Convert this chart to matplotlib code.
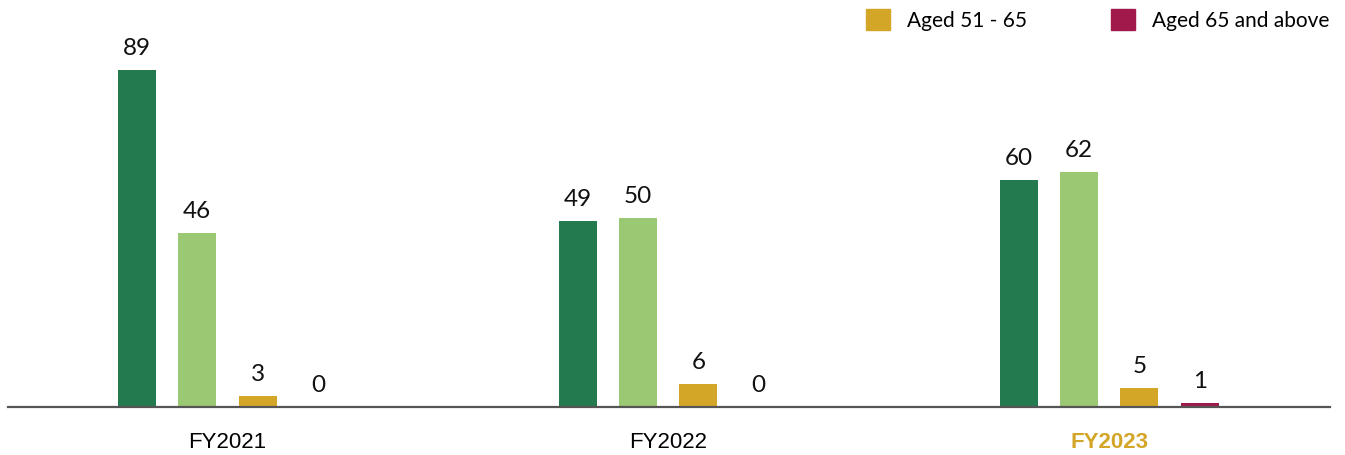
import matplotlib
matplotlib.use("Agg")
import matplotlib.pyplot as plt
import numpy as np
from matplotlib.patches import Patch

years = ["FY2021", "FY2022", "FY2023"]
series_names = ["Aged below 30", "Aged 30 - 50", "Aged 51 - 65", "Aged 65 and above"]
below_30 = [89, 49, 60]
aged_30_50 = [46, 50, 62]
aged_51_65 = [3, 6, 5]
aged_65_up = [0, 0, 1]
values = [below_30, aged_30_50, aged_51_65, aged_65_up]
colors = ["#237A4F", "#9BC873", "#D4A628", "#A0194A"]

fig = plt.figure(figsize=(13.45, 4.55), dpi=100)
ax = fig.add_axes([8/1345, 48/455, 1322/1345, 407/455])

x = np.arange(len(years))
step = 0.1368
width = 0.0862
offsets = [-1.5*step, -0.5*step, 0.5*step, 1.5*step]
for vals, off, col, name in zip(values, offsets, colors, series_names):
    bars = ax.bar(x + off, vals, width=width, color=col, label=name)
    for b, v in zip(bars, vals):
        ax.annotate(str(v), (b.get_x() + b.get_width()/2, v),
                    xytext=(0, 8), textcoords="offset points",
                    ha="center", va="bottom", fontsize=17.5,
                    family="Lato", color="#111111")

ax.set_xlim(-0.4977, 2.5007)
ax.set_ylim(0, 107.5)
for s in ["top", "right", "left"]:
    ax.spines[s].set_visible(False)
ax.spines["bottom"].set_color("#555555")
ax.spines["bottom"].set_linewidth(1.6)
ax.set_yticks([])
ax.set_xticks(x)
ax.set_xticklabels(years, fontsize=16, family="Liberation Sans")
ax.tick_params(axis="x", length=0, pad=18)
lbls = ax.get_xticklabels()
lbls[2].set_color("#D4A628")
lbls[2].set_fontweight("bold")

handles = [Patch(color=colors[2], label=series_names[2]),
           Patch(color=colors[3], label=series_names[3])]
fig.legend(handles=handles, loc="upper right", bbox_to_anchor=(1338/1345, 0.998),
           ncol=2, frameon=False, prop={"family": "Lato", "size": 15},
           handlelength=1.15, handleheight=1.15, handletextpad=0.85,
           columnspacing=4.0, borderaxespad=0.0)

fig.savefig("out.png", dpi=100)
